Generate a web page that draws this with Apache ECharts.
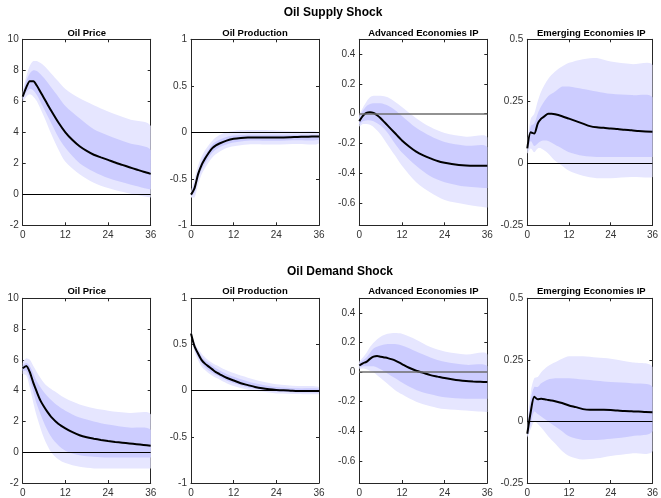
<!DOCTYPE html>
<html><head><meta charset="utf-8">
<script src="https://cdn.jsdelivr.net/npm/echarts@6/dist/echarts.min.js"></script>
<style>html,body{margin:0;padding:0;background:#fff}#c{width:661px;height:498px}</style>
</head><body><div id="c"></div>
<script>
// ---------- horizons (months) ----------
const H = [0,1,2,3,4,5,6,7,8,10,12,14,16,18,20,22,24,26,28,30,32,34,36];
const bandH = [0,1,2,3,4,6,8,10,12,16,20,24,30,36];
const xTicks = [0,12,24,36];

// ---------- titles ----------
const shockTitles = ['Oil Supply Shock','Oil Demand Shock'];
const varTitles = ['Oil Price','Oil Production','Advanced Economies IP','Emerging Economies IP'];

// ---------- y axes per column ----------
const yMin = [-2,-1,-0.75,-0.25];
const yMax = [10,1,0.5,0.5];
const yTicksPrice = [-2,0,2,4,6,8,10];
const yTicksProd = [-1,-0.5,0,0.5,1];
const yTicksAdv = [-0.6,-0.4,-0.2,0,0.2,0.4];
const yTicksEm = [-0.25,0,0.25,0.5];

// ---------- Oil supply shock ----------
const sPriceMed  = [6.3,6.9,7.3,7.3,7.0,6.6,6.2,5.8,5.4,4.65,4.0,3.5,3.1,2.8,2.55,2.38,2.22,2.05,1.9,1.75,1.6,1.45,1.32];
const sPriceHi90 = [6.6,7.6,8.3,8.6,8.6,8.3,7.8,7.3,6.8,6.2,5.75,5.35,4.85,4.4];
const sPriceHi68 = [6.45,7.3,7.8,8.0,7.95,7.5,6.9,6.3,5.7,4.9,4.2,3.8,3.3,2.85];
const sPriceLo68 = [6.15,6.6,6.8,6.7,6.4,5.5,4.6,3.7,3.0,2.0,1.45,1.05,0.65,0.32];
const sPriceLo90 = [6.0,6.3,6.45,6.3,6.0,5.0,3.9,2.9,2.1,1.3,0.75,0.4,0.05,-0.2];

const sProdMed  = [-0.67,-0.6,-0.45,-0.35,-0.28,-0.22,-0.17,-0.14,-0.12,-0.09,-0.07,-0.06,-0.055,-0.055,-0.055,-0.055,-0.055,-0.055,-0.053,-0.05,-0.048,-0.046,-0.045];
const sProdHi90 = [-0.64,-0.5,-0.36,-0.26,-0.19,-0.09,-0.03,0.0,0.015,0.025,0.025,0.02,0.01,0.0];
const sProdHi68 = [-0.655,-0.55,-0.41,-0.31,-0.24,-0.13,-0.08,-0.05,-0.035,-0.025,-0.025,-0.025,-0.025,-0.025];
const sProdLo68 = [-0.685,-0.65,-0.5,-0.4,-0.33,-0.22,-0.16,-0.13,-0.11,-0.09,-0.09,-0.09,-0.085,-0.08];
const sProdLo90 = [-0.7,-0.7,-0.56,-0.45,-0.38,-0.27,-0.21,-0.17,-0.15,-0.13,-0.13,-0.13,-0.125,-0.12];

const sAdvMed  = [-0.05,-0.015,0.005,0.01,0.005,-0.01,-0.03,-0.055,-0.08,-0.13,-0.18,-0.22,-0.255,-0.28,-0.3,-0.318,-0.33,-0.338,-0.344,-0.348,-0.35,-0.35,-0.35];
const sAdvHi90 = [-0.01,0.04,0.08,0.11,0.12,0.12,0.11,0.08,0.045,-0.03,-0.09,-0.13,-0.155,-0.16];
const sAdvHi68 = [-0.025,0.02,0.05,0.065,0.07,0.07,0.055,0.025,-0.015,-0.095,-0.15,-0.19,-0.215,-0.225];
const sAdvLo68 = [-0.07,-0.05,-0.045,-0.045,-0.05,-0.08,-0.13,-0.2,-0.26,-0.35,-0.42,-0.46,-0.49,-0.5];
const sAdvLo90 = [-0.085,-0.07,-0.07,-0.075,-0.09,-0.14,-0.21,-0.28,-0.35,-0.46,-0.53,-0.58,-0.61,-0.63];

const sEmMed  = [0.06,0.125,0.12,0.16,0.18,0.19,0.2,0.2,0.198,0.19,0.18,0.17,0.16,0.15,0.145,0.143,0.14,0.138,0.135,0.133,0.13,0.128,0.127];
const sEmHi90 = [0.08,0.18,0.2,0.25,0.29,0.34,0.37,0.39,0.405,0.42,0.425,0.41,0.4,0.395];
const sEmHi68 = [0.07,0.15,0.16,0.2,0.23,0.27,0.29,0.31,0.31,0.3,0.29,0.28,0.275,0.265];
const sEmLo68 = [0.05,0.09,0.07,0.08,0.09,0.09,0.075,0.06,0.045,0.03,0.025,0.025,0.025,0.025];
const sEmLo90 = [0.04,0.06,0.045,0.06,0.06,0.04,0.01,-0.01,-0.03,-0.05,-0.06,-0.06,-0.055,-0.055];

// ---------- Oil demand shock ----------
const dPriceMed  = [5.45,5.6,5.2,4.5,3.9,3.35,2.95,2.6,2.3,1.85,1.55,1.3,1.1,0.97,0.88,0.8,0.73,0.67,0.62,0.57,0.52,0.47,0.42];
const dPriceHi90 = [5.8,6.1,6.0,5.6,5.2,4.5,4.1,3.8,3.5,3.1,2.85,2.7,2.55,2.45];
const dPriceHi68 = [5.6,5.8,5.6,5.1,4.6,3.9,3.4,3.0,2.7,2.25,2.0,1.8,1.6,1.45];
const dPriceLo68 = [5.3,5.3,4.7,3.9,3.1,1.9,1.0,0.45,0.1,-0.2,-0.3,-0.35,-0.35,-0.35];
const dPriceLo90 = [5.1,5.0,4.2,3.2,2.3,0.9,0.0,-0.45,-0.7,-0.95,-1.05,-1.05,-1.05,-1.05];

const dProdMed  = [0.62,0.48,0.4,0.33,0.29,0.26,0.23,0.2,0.18,0.14,0.11,0.08,0.06,0.04,0.025,0.015,0.008,0.003,0.0,-0.003,-0.003,-0.003,-0.003];
const dProdHi90 = [0.63,0.52,0.45,0.4,0.36,0.3,0.26,0.22,0.19,0.14,0.1,0.07,0.05,0.04];
const dProdHi68 = [0.625,0.5,0.43,0.37,0.33,0.27,0.22,0.18,0.15,0.1,0.065,0.04,0.025,0.02];
const dProdLo68 = [0.615,0.45,0.36,0.3,0.25,0.19,0.15,0.11,0.08,0.035,0.01,-0.01,-0.02,-0.02];
const dProdLo90 = [0.61,0.42,0.33,0.26,0.22,0.16,0.12,0.08,0.05,0.01,-0.01,-0.03,-0.035,-0.04];

const dAdvMed  = [0.045,0.06,0.07,0.09,0.105,0.11,0.105,0.1,0.095,0.08,0.055,0.03,0.01,-0.005,-0.02,-0.03,-0.04,-0.048,-0.055,-0.06,-0.063,-0.065,-0.067];
const dAdvHi90 = [0.07,0.1,0.13,0.17,0.2,0.24,0.26,0.265,0.26,0.22,0.17,0.14,0.12,0.12];
const dAdvHi68 = [0.06,0.08,0.1,0.13,0.16,0.18,0.19,0.19,0.18,0.14,0.1,0.07,0.05,0.04];
const dAdvLo68 = [0.035,0.04,0.04,0.04,0.04,0.02,-0.01,-0.04,-0.07,-0.12,-0.15,-0.17,-0.18,-0.18];
const dAdvLo90 = [0.025,0.025,0.02,0.01,0.0,-0.04,-0.08,-0.12,-0.15,-0.2,-0.23,-0.25,-0.26,-0.27];

const dEmMed  = [-0.05,0.04,0.1,0.09,0.092,0.09,0.087,0.085,0.082,0.075,0.065,0.058,0.05,0.047,0.047,0.047,0.046,0.044,0.042,0.041,0.04,0.038,0.037];
const dEmHi90 = [-0.035,0.12,0.175,0.18,0.2,0.225,0.24,0.255,0.265,0.265,0.26,0.255,0.24,0.22];
const dEmHi68 = [-0.04,0.09,0.14,0.14,0.155,0.17,0.175,0.175,0.175,0.17,0.165,0.16,0.155,0.14];
const dEmLo68 = [-0.06,-0.01,0.04,0.03,0.02,0.0,-0.02,-0.04,-0.06,-0.075,-0.075,-0.07,-0.06,-0.04];
const dEmLo90 = [-0.065,-0.03,0.0,-0.01,-0.025,-0.06,-0.09,-0.12,-0.14,-0.155,-0.15,-0.14,-0.13,-0.12];

// ---------- assemble ----------
const panels = [
  {med:sPriceMed, hi90:sPriceHi90, hi68:sPriceHi68, lo68:sPriceLo68, lo90:sPriceLo90},
  {med:sProdMed,  hi90:sProdHi90,  hi68:sProdHi68,  lo68:sProdLo68,  lo90:sProdLo90},
  {med:sAdvMed,   hi90:sAdvHi90,   hi68:sAdvHi68,   lo68:sAdvLo68,   lo90:sAdvLo90},
  {med:sEmMed,    hi90:sEmHi90,    hi68:sEmHi68,    lo68:sEmLo68,    lo90:sEmLo90},
  {med:dPriceMed, hi90:dPriceHi90, hi68:dPriceHi68, lo68:dPriceLo68, lo90:dPriceLo90},
  {med:dProdMed,  hi90:dProdHi90,  hi68:dProdHi68,  lo68:dProdLo68,  lo90:dProdLo90},
  {med:dAdvMed,   hi90:dAdvHi90,   hi68:dAdvHi68,   lo68:dAdvLo68,   lo90:dAdvLo90},
  {med:dEmMed,    hi90:dEmHi90,    hi68:dEmHi68,    lo68:dEmLo68,    lo90:dEmLo90}
];
const yTicksByCol = [yTicksPrice, yTicksProd, yTicksAdv, yTicksEm];

const FONT = '"Liberation Sans", Arial, Helvetica, sans-serif';
const AX = '#262626';
const OUTER = '#E6E6FF';
const INNER = '#CCCCFF';
const gridLeft = [22.7, 191, 359.3, 527.3];
const gridW = 128;
const rowTop = [39.3, 298.3];
const gridH = 186;
const titleX = [333, 340];
const titleY = [13, 271.5];
const subY = [33.3, 291];

const grids = [], xAxes = [], yAxes = [], series = [], graphics = [];

function bandSeries(i, lo, hi, color) {
  return {
    type: 'custom', xAxisIndex: 2*i, yAxisIndex: 2*i, silent: true, clip: true,
    data: bandH.map((x,k) => [x, lo[k], hi[k]]),
    encode: {x: 0, y: [1, 2]},
    renderItem: function (params, api) {
      if (params.dataIndex !== 0) return null;
      const top = bandH.map((x,k) => api.coord([x, hi[k]]));
      const bot = bandH.map((x,k) => api.coord([x, lo[k]])).reverse();
      const pts = top.concat(bot);
      return {type: 'polygon', shape: {points: pts, smooth: 0.3, smoothConstraint: [pts[0], pts[0]]},
              style: {fill: color}};
    }
  };
}

panels.forEach((p, i) => {
  const r = Math.floor(i/4), c = i % 4;
  grids.push({left: gridLeft[c], top: rowTop[r], width: gridW, height: gridH});
  const axLine = {show: true, onZero: false, lineStyle: {color: AX, width: 1}};
  const tick = (vals) => ({show: true, inside: true, length: 3, customValues: vals, lineStyle: {color: AX, width: 1}});
  xAxes.push({type: 'value', gridIndex: i, position: 'bottom', min: 0, max: 36,
    axisLine: axLine, axisTick: tick(xTicks),
    axisLabel: {customValues: xTicks, fontSize: 10, color: '#333', margin: 5, fontFamily: FONT},
    splitLine: {show: false}});
  xAxes.push({type: 'value', gridIndex: i, position: 'top', min: 0, max: 36,
    axisLine: axLine, axisTick: tick(xTicks), axisLabel: {show: false}, splitLine: {show: false}});
  const yt = yTicksByCol[c];
  yAxes.push({type: 'value', gridIndex: i, position: 'left', min: yMin[c], max: yMax[c],
    axisLine: axLine, axisTick: tick(yt),
    axisLabel: {customValues: yt, fontSize: 10, color: '#333', margin: 4, fontFamily: FONT},
    splitLine: {show: false}});
  yAxes.push({type: 'value', gridIndex: i, position: 'right', min: yMin[c], max: yMax[c],
    axisLine: axLine, axisTick: tick(yt), axisLabel: {show: false}, splitLine: {show: false}});

  series.push(bandSeries(i, p.lo90, p.hi90, OUTER));
  series.push(bandSeries(i, p.lo68, p.hi68, INNER));
  const zeroGray = (c === 2);
  series.push({
    type: 'line', xAxisIndex: 2*i, yAxisIndex: 2*i,
    data: H.map((x,k) => [x, p.med[k]]),
    symbol: 'none', smooth: 0.25, clip: true,
    lineStyle: {color: '#000', width: 2},
    markLine: {silent: true, symbol: ['none','none'], label: {show: false},
      lineStyle: {color: zeroGray ? '#6e6e6e' : '#000', width: zeroGray ? 1.6 : 1, type: 'solid'},
      data: [{yAxis: 0}]},
    z: 3
  });

  graphics.push({type: 'text', x: gridLeft[c] + gridW/2, y: subY[r],
    style: {text: varTitles[c], font: 'bold 9.5px ' + FONT, fill: '#000', textAlign: 'center', textVerticalAlign: 'middle'}});
});
shockTitles.forEach((t, r) => {
  graphics.push({type: 'text', x: titleX[r], y: titleY[r],
    style: {text: t, font: 'bold 12px ' + FONT, fill: '#000', textAlign: 'center', textVerticalAlign: 'middle'}});
});

const chart = echarts.init(document.getElementById('c'));
chart.setOption({
  animation: false,
  backgroundColor: '#fff',
  grid: grids, xAxis: xAxes, yAxis: yAxes, series: series, graphic: graphics
});
</script></body></html>
